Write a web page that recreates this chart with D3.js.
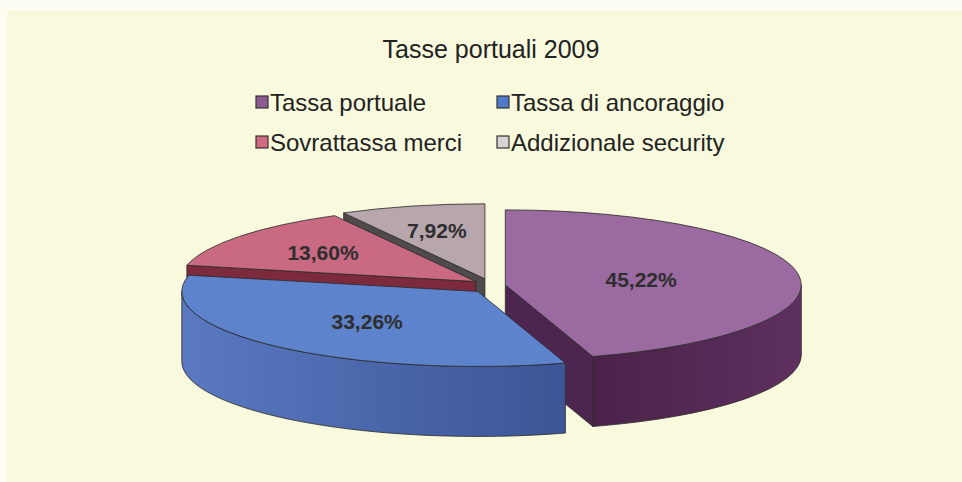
<!DOCTYPE html>
<html>
<head>
<meta charset="utf-8">
<script src="https://cdn.jsdelivr.net/npm/d3@7"></script>
<style>
  body { margin: 0; background: #fdfdf4; }
  svg { display: block; font-family: "Liberation Sans", Arial, sans-serif; }
</style>
</head>
<body>
<svg id="chart" width="962" height="482"></svg>
<script>
var title = "Tasse portuali 2009";
var categories = ["Tassa portuale", "Tassa di ancoraggio", "Sovrattassa merci", "Addizionale security"];
var values = [45.22, 33.26, 13.60, 7.92];
var legendOrder = [[0, 1], [2, 3]];

var topColors  = ["#9b6aa0", "#5d83cc", "#c96a82", "#b8a6ad"];
var sideLight  = ["#5e3060", "#5a79c1", "#8a3346", "#6a6064"];
var sideDark   = ["#4a2249", "#3b5596", "#6e2434", "#4f4a4c"];
var cutColors  = ["#4d2650", "#3f5a9c", "#7d2a3c", "#4f4a4c"];
var swatchColors = ["#8c5b8f", "#4f7ac7", "#d06a80", "#d8d2d4"];

var svg = d3.select("#chart");
var defs = svg.append("defs");

// panel
svg.append("rect").attr("x", 7).attr("y", 11).attr("width", 955).attr("height", 471)
   .attr("fill", "#f9f9de");

svg.append("text")
   .attr("x", 491).attr("y", 58)
   .attr("text-anchor", "middle")
   .style("font-size", "25px").attr("fill", "#222")
   .text(title);

// legend
var legend = svg.append("g");
legendOrder.forEach(function(row, r){
    row.forEach(function(i, c){
        var x = 256 + c * 241, y = 111 + r * 40;
        legend.append("rect")
            .attr("x", x).attr("y", y - 15).attr("width", 12).attr("height", 12)
            .attr("fill", swatchColors[i]).attr("stroke", "#333").attr("stroke-width", 1.2);
        legend.append("text")
            .attr("x", x + 14).attr("y", y)
            .style("font-size", "24px").attr("fill", "#222")
            .text(categories[i]);
    });
});

// 3D pie geometry
var cx = 489, cy = 286, rx = 296, ry = 75, depth = 70, explode = 16.5, explodeY = 0.45;

var pie = d3.pie().sort(null).value(function(d){ return d; });
var arcs = pie(values);

var fmt = d3.formatLocale({decimal: ",", thousands: ".", grouping: [3], currency: ["", "€"]}).format(".2f");

var rim = function(s, a, dy){
    return [s.cx + rx * Math.sin(a), s.cy - ry * Math.cos(a) + (dy || 0)];
};

var slices = arcs.map(function(d, i){
    var mid = (d.startAngle + d.endAngle) / 2;
    return {
        i: i, a0: d.startAngle, a1: d.endAngle, mid: mid, value: d.value,
        cx: cx + explode * Math.sin(mid),
        cy: cy - explode * explodeY * Math.cos(mid)
    };
});

var topPath = function(s){
    var p0 = rim(s, s.a0), p1 = rim(s, s.a1);
    var large = (s.a1 - s.a0) > Math.PI ? 1 : 0;
    return "M" + s.cx + "," + s.cy + "L" + p0 + "A" + rx + "," + ry + " 0 " + large + " 1 " + p1 + "Z";
};

var wallPath = function(s, a, b){
    var p0 = rim(s, a), p1 = rim(s, b), q0 = rim(s, a, depth), q1 = rim(s, b, depth);
    return "M" + p0 + "A" + rx + "," + ry + " 0 0 1 " + p1 + "L" + q1 +
           "A" + rx + "," + ry + " 0 0 0 " + q0 + "Z";
};

var cutPath = function(s, a){
    var p = rim(s, a), q = rim(s, a, depth);
    return "M" + s.cx + "," + s.cy + "L" + p + "L" + q + "L" + s.cx + "," + (s.cy + depth) + "Z";
};

var g = svg.append("g").attr("stroke", "#2a2a2a").attr("stroke-width", 0.8).attr("stroke-linejoin", "round");

// cut faces facing the viewer
var cuts = [];
slices.forEach(function(s){
    if (Math.sin(s.a0) < -1e-6) cuts.push({s: s, a: s.a0});
    if (Math.sin(s.a1) > 1e-6) cuts.push({s: s, a: s.a1});
});
cuts.sort(function(u, v){
    return (u.s.cy - ry * Math.cos(u.a) / 2) - (v.s.cy - ry * Math.cos(v.a) / 2);
});
g.selectAll(".cut").data(cuts).enter().append("path")
    .attr("class", "cut")
    .attr("d", function(c){ return cutPath(c.s, c.a); })
    .attr("fill", function(c){ return cutColors[c.s.i]; });

// outer walls (front half only)
var walls = [];
slices.forEach(function(s){
    var a = Math.max(s.a0, Math.PI / 2), b = Math.min(s.a1, 3 * Math.PI / 2);
    if (b > a) walls.push({s: s, a: a, b: b});
});
walls.forEach(function(w, k){
    var p0 = rim(w.s, w.a), p1 = rim(w.s, w.b);
    var grad = defs.append("linearGradient").attr("id", "wall" + k)
        .attr("gradientUnits", "userSpaceOnUse")
        .attr("x1", Math.min(p0[0], p1[0])).attr("x2", Math.max(p0[0], p1[0]))
        .attr("y1", 0).attr("y2", 0);
    var leftCol = w.s.i === 1 ? sideLight[1] : sideDark[w.s.i];
    var rightCol = w.s.i === 1 ? sideDark[1] : sideLight[w.s.i];
    grad.append("stop").attr("offset", "0%").attr("stop-color", leftCol);
    grad.append("stop").attr("offset", "100%").attr("stop-color", rightCol);
    g.append("path")
        .attr("d", wallPath(w.s, w.a, w.b))
        .attr("fill", "url(#wall" + k + ")");
});

// top faces
g.selectAll(".top").data(slices).enter().append("path")
    .attr("class", "top")
    .attr("d", topPath)
    .attr("fill", function(s){ return topColors[s.i]; });

// labels at the centroid of each top face
svg.selectAll(".lbl").data(slices).enter().append("text")
    .attr("class", "lbl")
    .attr("x", function(s){
        var a = s.a1 - s.a0, f = 4 * Math.sin(a / 2) / (3 * a);
        return s.cx + f * rx * Math.sin(s.mid);
    })
    .attr("y", function(s){
        var a = s.a1 - s.a0, f = 4 * Math.sin(a / 2) / (3 * a);
        return s.cy - f * ry * Math.cos(s.mid);
    })
    .attr("dy", "0.35em")
    .attr("text-anchor", "middle")
    .style("font-size", "21px").style("font-weight", "bold").attr("fill", "#2e2e2e")
    .text(function(s){ return fmt(s.value) + "%"; });
</script>
</body>
</html>
